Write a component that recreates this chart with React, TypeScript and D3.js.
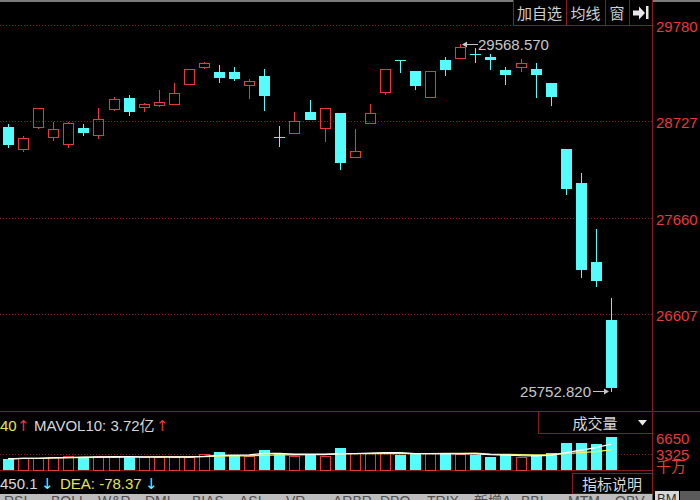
import React from 'react';
import * as d3 from 'd3';

// daily candles
const opens = [28660, 28419, 28660, 28550, 28473, 28649, 28572, 28858, 28978, 28880, 28902, 28913, 29132, 29319, 29264, 29264, 29121, 29220, 28550, 28594, 28825, 28649, 28814, 28331, 28704, 29044, 29396, 29275, 28989, 29396, 29418, 29462, 29429, 29286, 29319, 29297, 29143, 28419, 28045, 27178, 26541];
const highs = [28693, 28561, 28869, 28715, 28715, 28693, 28869, 28989, 29011, 28924, 29066, 29143, 29300, 29374, 29341, 29319, 29187, 29297, 28671, 28825, 28956, 28869, 28816, 28638, 28913, 29297, 29398, 29277, 29275, 29429, 29568.57, 29528, 29462, 29319, 29407, 29363, 29145, 28421, 28155, 27540, 26783];
const lows = [28430, 28386, 28638, 28506, 28430, 28561, 28528, 28836, 28781, 28825, 28880, 28902, 29128, 29297, 29143, 29165, 28967, 28836, 28440, 28583, 28735, 28495, 28188, 28330, 28703, 29011, 29253, 29066, 28987, 29220, 29416, 29363, 29286, 29121, 29264, 28978, 28891, 27913, 27002, 26903, 25752.82];
const closes = [28462, 28539, 28869, 28638, 28704, 28594, 28748, 28967, 28825, 28913, 28935, 29033, 29297, 29363, 29198, 29187, 29165, 29000, 28541, 28726, 28737, 28869, 28265, 28397, 28814, 29297, 29390, 29110, 29275, 29286, 29538, 29455, 29396, 29231, 29363, 29231, 28989, 27979, 27090, 26969, 25794];
// volume, 千万
const volumes = [2300, 2500, 2500, 2700, 2900, 2700, 2900, 2700, 2700, 2700, 2700, 2700, 2700, 3300, 3750, 3100, 2900, 4150, 3300, 2900, 3100, 2900, 4550, 3500, 3500, 3500, 3100, 3500, 3500, 3300, 3300, 3100, 2700, 3100, 2700, 3100, 3500, 5550, 5680, 5340, 6900];

const priceTicks = [29780, 28727, 27660, 26607];
const volTicks = ['6650', '3325'];
const tabs = ['RSI', 'BOLL', 'W&R', 'DMI', 'BIAS', 'ASI', 'VR', 'ARBR', 'DPO', 'TRIX', '新增A', 'BBI', 'MTM', 'OBV'];
const buttons = ['加自选', '均线', '窗'];

const RED = '#e83a3a';
const CYAN = '#54fcfc';
const GRID = '#8a1c1c';
const FONT = '"Liberation Sans", Arial, "Noto Sans CJK SC", sans-serif';
const CJK = '"Noto Sans CJK SC", sans-serif';

const App: React.FC = () => {
  const ref = React.useRef<SVGSVGElement>(null);

  React.useEffect(() => {
    const svg = d3.select(ref.current);
    svg.selectAll('*').remove();
    const W = 700;
    const H = 500;
    const right = 652.5;

    svg.append('rect').attr('width', W).attr('height', H).attr('fill', '#000');
    svg.append('rect').attr('width', W).attr('height', 2).attr('fill', '#7a7a7a');

    const idx = d3.range(opens.length);
    const x = d3.scalePoint<number>().domain(idx).range([8, 611]);
    const y = d3.scaleLinear().domain([26607, 29780]).range([314, 25]);
    const yv = d3.scaleLinear().domain([0, 6650]).range([470, 438]);
    const cx = (i: number) => Math.round(x(i) as number);

    // price grid
    svg.selectAll('line.pg').data(priceTicks).enter().append('line')
      .attr('x1', 0).attr('x2', right)
      .attr('y1', (d: number) => Math.round(y(d)) + 0.5)
      .attr('y2', (d: number) => Math.round(y(d)) + 0.5)
      .attr('stroke', GRID).attr('stroke-dasharray', '1,2');

    svg.selectAll('text.pt').data(priceTicks).enter().append('text')
      .attr('x', 656).attr('y', (d: number) => y(d) + 7)
      .attr('fill', RED).attr('font-family', FONT).attr('font-size', 15)
      .text((d: number) => d);

    // candles
    const g = svg.append('g');
    idx.forEach((i) => {
      const o = opens[i], c = closes[i], h = highs[i], l = lows[i];
      const up = c >= o;
      const col = up ? RED : CYAN;
      const xc = cx(i);
      const top = Math.round(y(Math.max(o, c)));
      const bot = Math.round(y(Math.min(o, c)));
      const hy = Math.round(y(h));
      const ly = Math.round(y(l));
      if (up) {
        if (hy < top) g.append('line').attr('x1', xc + 0.5).attr('x2', xc + 0.5).attr('y1', hy).attr('y2', top).attr('stroke', col);
        if (ly > bot) g.append('line').attr('x1', xc + 0.5).attr('x2', xc + 0.5).attr('y1', bot).attr('y2', ly).attr('stroke', col);
        g.append('rect').attr('x', xc - 4.5).attr('y', top + 0.5)
          .attr('width', 10).attr('height', Math.max(1, bot - top))
          .attr('fill', 'none').attr('stroke', col);
      } else {
        g.append('line').attr('x1', xc + 0.5).attr('x2', xc + 0.5).attr('y1', hy).attr('y2', ly).attr('stroke', col);
        g.append('rect').attr('x', xc - 5).attr('y', top)
          .attr('width', 11).attr('height', Math.max(1, bot - top))
          .attr('fill', col);
      }
    });

    // high / low marks
    const hiI = d3.maxIndex(highs);
    const loI = d3.minIndex(lows);
    const hx = cx(hiI) + 2;
    const hy = Math.round(y(highs[hiI])) + 0.5;
    svg.append('path').attr('d', `M${hx},${hy}L${hx + 5},${hy - 3}L${hx + 5},${hy + 3}Z`).attr('fill', '#c8c8c8');
    svg.append('line').attr('x1', hx + 5).attr('x2', hx + 16).attr('y1', hy).attr('y2', hy).attr('stroke', '#c8c8c8');
    svg.append('text').attr('x', hx + 16).attr('y', hy + 5.5)
      .attr('fill', '#c8c8c8').attr('font-family', FONT).attr('font-size', 15)
      .text(highs[hiI].toFixed(3));

    const lx = cx(loI) - 2;
    const ly = Math.round(y(lows[loI])) - 0.5;
    svg.append('path').attr('d', `M${lx},${ly}L${lx - 5},${ly - 3}L${lx - 5},${ly + 3}Z`).attr('fill', '#c8c8c8');
    svg.append('line').attr('x1', lx - 16).attr('x2', lx - 5).attr('y1', ly).attr('y2', ly).attr('stroke', '#c8c8c8');
    svg.append('text').attr('x', lx - 18).attr('y', ly + 5.5).attr('text-anchor', 'end')
      .attr('fill', '#c8c8c8').attr('font-family', FONT).attr('font-size', 15)
      .text(lows[loI].toFixed(3));

    // top buttons
    const bx = [513, 566, 605, 629, right];
    svg.append('rect').attr('x', 513.5).attr('y', -1).attr('width', right - 513.5).attr('height', 26.5)
      .attr('fill', '#000').attr('stroke', GRID);
    bx.slice(1, 4).forEach((v) => {
      svg.append('line').attr('x1', v + 0.5).attr('x2', v + 0.5).attr('y1', 0).attr('y2', 25).attr('stroke', GRID);
    });
    buttons.forEach((b, k) => {
      svg.append('text').attr('x', (bx[k] + bx[k + 1]) / 2).attr('y', 19).attr('text-anchor', 'middle')
        .attr('fill', '#d0d0d0').attr('font-family', CJK).attr('font-size', 15).text(b);
    });
    svg.append('path').attr('d', 'M633,10.5h6v-4l6,6.5l-6,6.5v-4h-6Z').attr('fill', '#e8e8e8');
    svg.append('rect').attr('x', 646).attr('y', 6).attr('width', 2.5).attr('height', 13).attr('fill', '#e8e8e8');

    // frame lines
    svg.append('line').attr('x1', right).attr('x2', right).attr('y1', 0).attr('y2', 494).attr('stroke', GRID);
    svg.append('line').attr('x1', 0).attr('x2', W).attr('y1', 411.5).attr('y2', 411.5).attr('stroke', GRID);
    svg.append('line').attr('x1', 0).attr('x2', right).attr('y1', 470.5).attr('y2', 470.5).attr('stroke', GRID);

    // volume header
    const hdr = svg.append('g').attr('font-size', 15).attr('font-family', FONT);
    hdr.append('text').attr('x', 0).attr('y', 431).attr('fill', '#e6e64a').text('40');
    hdr.append('text').attr('x', 17).attr('y', 431).attr('fill', RED).attr('font-family', 'DejaVu Sans').text('↑');
    hdr.append('text').attr('x', 34).attr('y', 431).attr('fill', '#d8d8d8').text('MAVOL10: 3.72亿');
    hdr.append('text').attr('x', 156).attr('y', 431).attr('fill', RED).attr('font-family', 'DejaVu Sans').text('↑');

    svg.append('rect').attr('x', 538.5).attr('y', 411.5).attr('width', right - 538.5).attr('height', 22)
      .attr('fill', '#000').attr('stroke', GRID);
    svg.append('text').attr('x', 595).attr('y', 429).attr('text-anchor', 'middle')
      .attr('fill', '#d8d8d8').attr('font-family', CJK).attr('font-size', 15).text('成交量');
    svg.append('path').attr('d', 'M638,420h9l-4.5,5.5Z').attr('fill', '#e8e8e8');

    // volume grid & labels
    svg.append('line').attr('x1', 0).attr('x2', right)
      .attr('y1', Math.round(yv(3325)) + 0.5).attr('y2', Math.round(yv(3325)) + 0.5)
      .attr('stroke', GRID).attr('stroke-dasharray', '1,2');
    volTicks.forEach((t) => {
      svg.append('text').attr('x', 656).attr('y', yv(+t) + 6)
        .attr('fill', RED).attr('font-family', FONT).attr('font-size', 15).text(t);
    });
    svg.append('text').attr('x', 656).attr('y', 472)
      .attr('fill', RED).attr('font-family', CJK).attr('font-size', 15).text('千万');

    // volume bars
    const vg = svg.append('g');
    idx.forEach((i) => {
      const up = closes[i] >= opens[i];
      const xc = cx(i);
      const t = Math.round(yv(volumes[i]));
      if (up) {
        vg.append('rect').attr('x', xc - 4.5).attr('y', t + 0.5).attr('width', 10).attr('height', 470 - t)
          .attr('fill', 'none').attr('stroke', RED);
      } else {
        vg.append('rect').attr('x', xc - 5).attr('y', t).attr('width', 11).attr('height', 470 - t).attr('fill', CYAN);
      }
    });

    const ma = (n: number) => idx.map((i) => d3.mean(volumes.slice(Math.max(0, i - n + 1), i + 1)) as number);
    const line = d3.line<number>().x((_d: number, i: number) => x(i) as number).y((d: number) => yv(d));
    svg.append('path').datum(ma(10)).attr('d', line).attr('fill', 'none').attr('stroke', '#f0f060').attr('stroke-width', 1.3);
    svg.append('path').datum(ma(5)).attr('d', line).attr('fill', 'none').attr('stroke', '#ffffff').attr('stroke-width', 1.3);

    // macd header
    const mh = svg.append('g').attr('font-size', 15).attr('font-family', FONT);
    mh.append('text').attr('x', 0).attr('y', 489).attr('fill', '#d8d8d8').text('450.1');
    mh.append('text').attr('x', 41).attr('y', 489).attr('fill', CYAN).attr('font-family', 'DejaVu Sans').text('↓');
    mh.append('text').attr('x', 60).attr('y', 489).attr('fill', '#e6e64a').text('DEA: -78.37');
    mh.append('text').attr('x', 145).attr('y', 489).attr('fill', CYAN).attr('font-family', 'DejaVu Sans').text('↓');

    svg.append('rect').attr('x', 572.5).attr('y', 473.5).attr('width', right - 572.5).attr('height', 20.5)
      .attr('fill', '#000').attr('stroke', GRID);
    svg.append('text').attr('x', 612).attr('y', 490).attr('text-anchor', 'middle')
      .attr('fill', '#d8d8d8').attr('font-family', CJK).attr('font-size', 15).text('指标说明');

    // tab strip
    svg.append('rect').attr('x', 0).attr('y', 494).attr('width', right).attr('height', 6).attr('fill', '#bdbdbd');
    const tg = svg.append('g').attr('font-size', 14).attr('font-family', FONT).attr('fill', '#505050');
    let tx = 4;
    tabs.forEach((t) => {
      tg.append('text').attr('x', tx).attr('y', 506).text(t);
      tx += 47;
    });
    svg.append('rect').attr('x', 655).attr('y', 491).attr('width', 24).attr('height', 9).attr('fill', '#d8d8d8');
    svg.append('text').attr('x', 657).attr('y', 503).attr('fill', '#303030').attr('font-family', FONT).attr('font-size', 13).text('BM');
    svg.append('rect').attr('x', 680).attr('y', 491).attr('width', 20).attr('height', 9).attr('fill', '#5a5a5a');
  }, []);

  return (
    <svg ref={ref} width={700} height={500} style={{ position: 'fixed', left: 0, top: 0, display: 'block' }} />
  );
};

export default App;
